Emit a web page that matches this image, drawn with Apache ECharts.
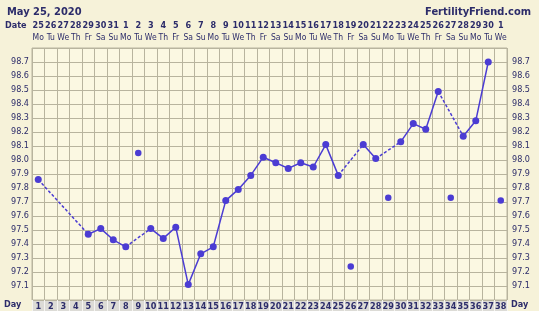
<!DOCTYPE html>
<html><head><meta charset="utf-8">
<script src="https://cdn.jsdelivr.net/npm/echarts@6/dist/echarts.min.js"></script>
<style>html,body{margin:0;padding:0;background:#f6f2d9}#c{width:539px;height:311px}</style>
</head><body><div id="c"></div>
<script>
const dayLabels = ['1','2','3','4','5','6','7','8','9','10','11','12','13','14','15','16','17','18','19','20','21','22','23','24','25','26','27','28','29','30','31','32','33','34','35','36','37','38'];
const dateLabels = ['25','26','27','28','29','30','31','1','2','3','4','5','6','7','8','9','10','11','12','13','14','15','16','17','18','19','20','21','22','23','24','25','26','27','28','29','30','1'];
const weekdayLabels = ['Mo','Tu','We','Th','Fr','Sa','Su','Mo','Tu','We','Th','Fr','Sa','Su','Mo','Tu','We','Th','Fr','Sa','Su','Mo','Tu','We','Th','Fr','Sa','Su','Mo','Tu','We','Th','Fr','Sa','Su','Mo','Tu','We'];
const temps = [97.86, null, null, null, 97.47, 97.51, 97.43, 97.38, 98.05, 97.51, 97.44, 97.52, 97.11, 97.33, 97.38, 97.71, 97.79, 97.89, 98.02, 97.98, 97.94, 97.98, 97.95, 98.11, 97.89, 97.24, 98.11, 98.01, 97.73, 98.13, 98.26, 98.22, 98.49, 97.73, 98.17, 98.28, 98.70, 97.71];
const discardedDays = [9, 26, 29, 34, 38];
const yMin = 97.0, yMax = 98.8, yStep = 0.1;

const solid = temps.map((v, i) => discardedDays.includes(i + 1) ? null : v);
const openPts = temps.map((v, i) => discardedDays.includes(i + 1) ? v : null);
const bridges = [];
let prev = -1;
solid.forEach((v, i) => {
  if (v == null) return;
  if (prev >= 0 && i - prev > 1) {
    const d = new Array(solid.length).fill(null);
    d[prev] = solid[prev]; d[i] = v;
    bridges.push(d);
  }
  prev = i;
});

const FONT = "'DejaVu Sans Condensed', 'DejaVu Sans', sans-serif";
const TXT = '#2c2c6a';
const LINE = '#4b3cd3';
const GRIDC = '#b8b49e';

const yLabel = v => (v < yMin + 0.05 || v > yMax - 0.05) ? '' : v.toFixed(1);
const yAxisBase = {
  type: 'value', min: yMin, max: yMax, interval: yStep,
  axisLine: { show: false }, axisTick: { show: false },
  axisLabel: { color: TXT, fontSize: 9, fontFamily: FONT, formatter: yLabel }
};

const series = [];
bridges.forEach(d => series.push({
  type: 'line', data: d, connectNulls: true, symbol: 'none', silent: true,
  lineStyle: { color: LINE, width: 1.5, type: [3, 2] }, z: 2
}));
series.push({
  type: 'line', data: solid, connectNulls: false, symbol: 'circle', symbolSize: 7,
  itemStyle: { color: LINE }, lineStyle: { color: LINE, width: 1.5 }, z: 3
});
series.push({
  type: 'scatter', data: openPts, symbol: 'circle', symbolSize: 6.5,
  itemStyle: { color: LINE, opacity: 1 }, z: 3
});

const chart = echarts.init(document.getElementById('c'));
chart.setOption({
  animation: false,
  backgroundColor: '#f6f2d9',
  title: [
    { text: 'May 25, 2020', left: 2, top: 2, textStyle: { color: TXT, fontSize: 11, fontWeight: 'bold', fontFamily: FONT } },
    { text: 'FertilityFriend.com', right: 3, top: 2, textStyle: { color: TXT, fontSize: 11, fontWeight: 'bold', fontFamily: FONT } }
  ],
  grid: { left: 32, right: 32, top: 48, bottom: 11, show: true, backgroundColor: '#fbf8e2', borderColor: GRIDC, borderWidth: 1 },
  graphic: [
    { type: 'rect', z: -10, shape: { x: 32, y: 300, width: 475, height: 11 }, style: { fill: '#dcdbd6' } },
    { type: 'text', left: 5, top: 21, style: { text: 'Date', fill: TXT, font: 'bold 9px ' + FONT } },
    { type: 'text', left: 4, top: 300, style: { text: 'Day', fill: TXT, font: 'bold 9px ' + FONT } },
    { type: 'text', left: 511, top: 300, style: { text: 'Day', fill: TXT, font: 'bold 9px ' + FONT } }
  ],
  xAxis: [
    {
      type: 'category', data: dayLabels, boundaryGap: true, position: 'bottom',
      axisLine: { show: false },
      axisTick: { show: true, interval: 0, length: 11, lineStyle: { color: '#f5f4f0', width: 1 } },
      axisLabel: { interval: 0, margin: 2, color: TXT, fontSize: 9, fontWeight: 'bold', fontFamily: FONT },
      splitLine: { show: true, interval: 0, lineStyle: { color: GRIDC, width: 1 } }
    },
    {
      type: 'category', data: weekdayLabels, boundaryGap: true, position: 'top',
      axisLine: { show: false }, axisTick: { show: false },
      axisLabel: { interval: 0, margin: 6, color: TXT, fontSize: 8.5, fontFamily: FONT }
    },
    {
      type: 'category', data: dateLabels, boundaryGap: true, position: 'top',
      axisLine: { show: false }, axisTick: { show: false },
      axisLabel: { interval: 0, margin: 18, color: TXT, fontSize: 9, fontWeight: 'bold', fontFamily: FONT }
    }
  ],
  yAxis: [
    Object.assign({}, yAxisBase, { position: 'left', axisLabel: Object.assign({}, yAxisBase.axisLabel, { margin: 3 }), splitLine: { show: true, lineStyle: { color: GRIDC, width: 1 } } }),
    Object.assign({}, yAxisBase, { position: 'right', axisLabel: Object.assign({}, yAxisBase.axisLabel, { margin: 5 }), splitLine: { show: false } })
  ],
  series: series
});
</script></body></html>
